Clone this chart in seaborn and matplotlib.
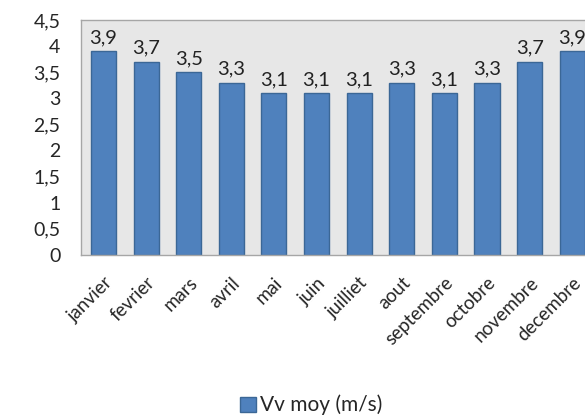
import matplotlib
matplotlib.use("Agg")
import matplotlib.pyplot as plt
import seaborn as sns
import pandas as pd
from matplotlib.patches import Patch

months = ["janvier", "fevrier", "mars", "avril", "mai", "juin", "juilliet",
          "aout", "septembre", "octobre", "novembre", "decembre"]
values = [3.9, 3.7, 3.5, 3.3, 3.1, 3.1, 3.1, 3.3, 3.1, 3.3, 3.7, 3.9]
yticks = [0, 0.5, 1, 1.5, 2, 2.5, 3, 3.5, 4, 4.5]
series_name = "Vv moy (m/s)"

sns.set_theme(style="white")
plt.rcParams['font.family'] = ['Lato', 'DejaVu Sans']

df = pd.DataFrame({"mois": months, "v": values})

fig = plt.figure(figsize=(5.85, 4.19), dpi=100)
ax = fig.add_axes([0.139, 0.392, 0.861, 0.56])
ax.set_facecolor("#e7e7e7")

sns.barplot(data=df, x="mois", y="v", color="#4f81bd", width=0.59,
            edgecolor="#3b6796", linewidth=1.0, saturation=1, ax=ax)

ax.set_ylim(0, 4.5)
ax.set_xlim(-0.52, 11.3)
ax.set_yticks(yticks)
ax.set_yticklabels([("%g" % t).replace(".", ",") for t in yticks], fontsize=14)
ax.set_xticks(range(len(months)))
ax.set_xticklabels(months, rotation=45, ha="right", rotation_mode="anchor", fontsize=13.5)
ax.tick_params(axis="y", length=0, pad=15)
ax.tick_params(axis="x", length=0, pad=14)
ax.set_xlabel("")
ax.set_ylabel("")

for s in ["left", "bottom", "top", "right"]:
    ax.spines[s].set_color("#a6a6a6")
    ax.spines[s].set_linewidth(1.0)
ax.spines["right"].set_visible(False)

for i, v in enumerate(values):
    ax.text(i, v + 0.1, ("%.1f" % v).replace(".", ","), ha="center", va="bottom",
            fontsize=14.5, color="#222222")

handle = Patch(facecolor="#4f81bd", edgecolor="#3b6796", label=series_name)
fig.legend(handles=[handle], loc="center", bbox_to_anchor=(0.532, 0.033),
           frameon=False, fontsize=15, handlelength=0.75, handleheight=0.75,
           handletextpad=0.2)

fig.savefig("out.png", dpi=100)
